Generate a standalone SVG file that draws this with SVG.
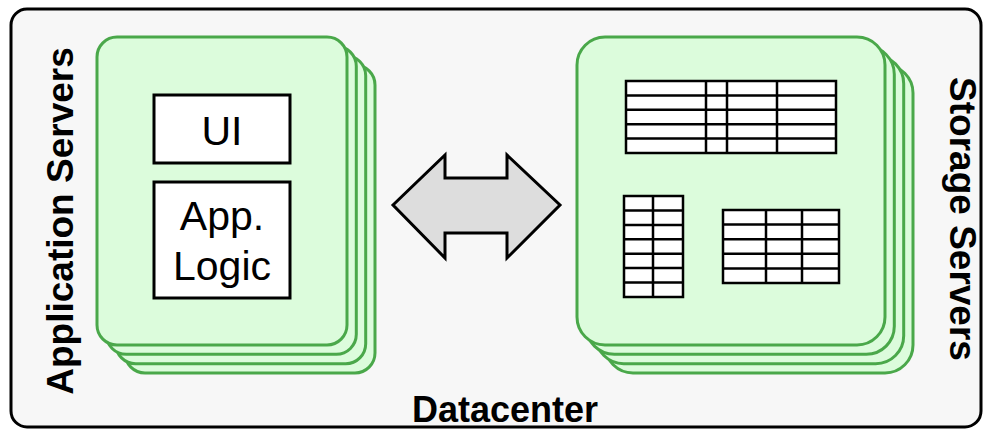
<svg xmlns="http://www.w3.org/2000/svg" width="990" height="430" viewBox="0 0 990 430">
  <style>
    .card { fill: #dcfcdc; stroke: #4aa84a; stroke-width: 3; }
    .box { fill: #ffffff; stroke: #000000; stroke-width: 3; }
    .tbl { fill: #ffffff; stroke: #000000; stroke-width: 2.5; }
    .grid { stroke: #000000; stroke-width: 2.5; fill: none; }
    .lbl { font-family: "Liberation Sans", Arial, sans-serif; font-size: 37px; font-weight: bold; fill: #000000; text-anchor: middle; }
    .txt { font-family: "Liberation Sans", Arial, sans-serif; font-size: 41px; fill: #000000; text-anchor: middle; }
  </style>

  <!-- datacenter frame -->
  <g id="datacenter">
    <rect x="11" y="9" width="970" height="418" rx="16" fill="#f7f7f7" stroke="#000000" stroke-width="3"/>
    <text class="lbl" x="505" y="422" style="font-size:36px">Datacenter</text>
  </g>

  <!-- application server stack -->
  <g id="app-servers">
    <rect class="card" x="125" y="65" width="250" height="308" rx="20"/>
    <rect class="card" x="115.7" y="55.7" width="250" height="308" rx="20"/>
    <rect class="card" x="106.3" y="46.3" width="250" height="308" rx="20"/>
    <rect class="card" x="97" y="37" width="250" height="308" rx="20"/>
    <text class="lbl" transform="translate(73 221) rotate(-90)">Application Servers</text>
  </g>

  <g id="ui">
    <rect class="box" x="154" y="95" width="136" height="68"/>
    <text class="txt" x="222" y="145">UI</text>
  </g>

  <g id="app-logic">
    <rect class="box" x="154" y="182" width="136" height="116"/>
    <text class="txt" x="222" y="230">App.</text>
    <text class="txt" x="222" y="280">Logic</text>
  </g>

  <!-- storage server stack -->
  <g id="storage-servers">
    <rect class="card" x="605" y="65" width="308" height="308" rx="28"/>
    <rect class="card" x="595.7" y="55.7" width="308" height="308" rx="28"/>
    <rect class="card" x="586.3" y="46.3" width="308" height="308" rx="28"/>
    <rect class="card" x="577" y="37" width="308" height="308" rx="28"/>
    <text class="lbl" transform="translate(950 219) rotate(90)">Storage Servers</text>
  </g>

  <g id="table-wide">
    <rect class="tbl" x="626" y="81" width="210" height="72"/>
    <path class="grid" d="M626 95.4H836M626 109.8H836M626 124.2H836M626 138.6H836M706 81V153M727 81V153M777 81V153"/>
  </g>

  <g id="table-tall">
    <rect class="tbl" x="624" y="196" width="59" height="101"/>
    <path class="grid" d="M624 210.4H683M624 224.9H683M624 239.3H683M624 253.7H683M624 268.1H683M624 282.6H683M653 196V297"/>
  </g>

  <g id="table-small">
    <rect class="tbl" x="723" y="210" width="116" height="73"/>
    <path class="grid" d="M723 224.6H839M723 239.2H839M723 253.8H839M723 268.4H839M766 210V283M802 210V283"/>
  </g>

  <!-- connector between the stacks -->
  <g id="connectors">
    <polygon points="393,205 445,155 445,178 507,178 507,155 560,205 507,258 507,233 445,233 445,258" fill="#dddddd" stroke="#000000" stroke-width="3" stroke-linejoin="miter"/>
  </g>
</svg>
